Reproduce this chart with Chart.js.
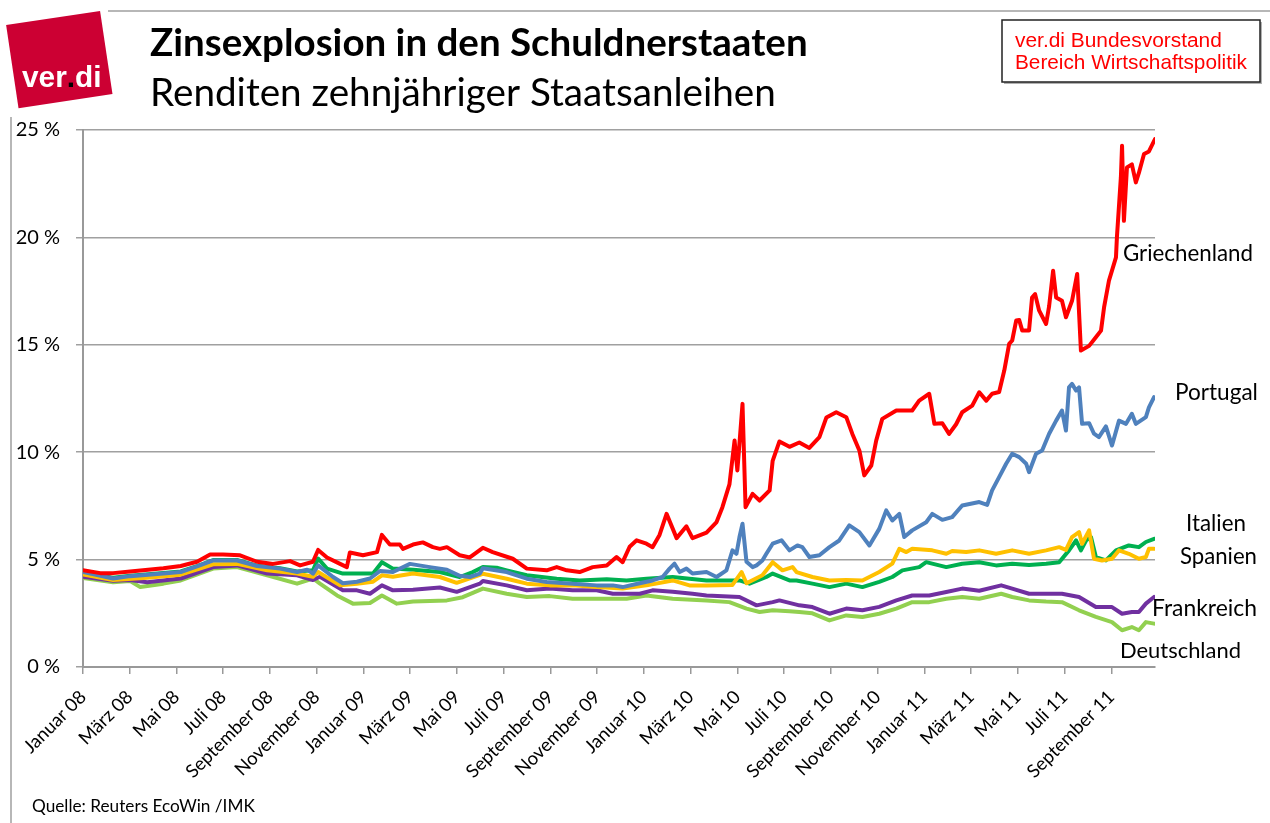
<!DOCTYPE html>
<html>
<head>
<meta charset="utf-8">
<script src="https://cdn.jsdelivr.net/npm/chart.js@4.4.1/dist/chart.umd.min.js"></script>
<style>
html, body { margin: 0; padding: 0; background: #fff; }
#chart { position: absolute; left: 0; top: 0; }
</style>
</head>
<body>
<canvas id="chart" width="1270" height="823"></canvas>
<script>
// x = months since 1 Jan 2008, y = yield in %
const tickLabels = ['Januar 08', 'März 08', 'Mai 08', 'Juli 08', 'September 08', 'November 08',
    'Januar 09', 'März 09', 'Mai 09', 'Juli 09', 'September 09', 'November 09',
    'Januar 10', 'März 10', 'Mai 10', 'Juli 10', 'September 10', 'November 10',
    'Januar 11', 'März 11', 'Mai 11', 'Juli 11', 'September 11'];

const griechenland = [[0,4.5],[0.74,4.37],[1.29,4.37],[2.02,4.45],[3.44,4.6],[4.18,4.7],[4.88,4.9],[5.44,5.24],[5.99,5.24],[6.72,5.2],[7.45,4.9],[8.13,4.8],[8.86,4.93],[9.29,4.73],[9.84,4.9],[10.06,5.45],[10.44,5.1],[11.0,4.8],[11.29,4.65],[11.42,5.33],[11.98,5.2],[12.58,5.35],[12.79,6.15],[13.13,5.7],[13.56,5.7],[13.69,5.5],[14.12,5.7],[14.54,5.8],[14.97,5.58],[15.27,5.5],[15.57,5.58],[16.12,5.2],[16.55,5.1],[17.11,5.55],[17.53,5.35],[18.39,5.04],[18.99,4.58],[19.84,4.5],[20.27,4.65],[20.7,4.5],[21.25,4.42],[21.81,4.65],[22.41,4.73],[22.83,5.12],[23.09,4.88],[23.39,5.6],[23.69,5.9],[24.11,5.74],[24.37,5.58],[24.67,6.15],[24.97,7.13],[25.4,6.0],[25.82,6.55],[26.08,6.0],[26.68,6.26],[27.11,6.75],[27.36,7.44],[27.66,8.5],[27.88,10.55],[28.0,9.15],[28.22,12.25],[28.35,7.44],[28.65,8.06],[28.95,7.75],[29.38,8.22],[29.51,9.6],[29.8,10.5],[30.23,10.25],[30.65,10.45],[31.08,10.2],[31.51,10.7],[31.81,11.62],[32.23,11.86],[32.66,11.63],[32.92,10.85],[33.22,10.08],[33.43,8.92],[33.73,9.38],[33.94,10.54],[34.2,11.55],[34.8,11.94],[35.48,11.94],[35.78,12.4],[36.21,12.72],[36.43,11.32],[36.77,11.35],[37.06,10.85],[37.36,11.3],[37.62,11.86],[38.05,12.17],[38.35,12.79],[38.65,12.4],[38.9,12.72],[39.2,12.8],[39.42,13.8],[39.63,15.04],[39.76,15.2],[39.93,16.13],[40.06,16.15],[40.19,15.66],[40.48,15.66],[40.61,17.2],[40.74,17.36],[40.91,16.6],[41.21,15.97],[41.34,16.8],[41.51,18.45],[41.64,17.2],[41.89,17.05],[42.06,16.28],[42.32,17.05],[42.54,18.3],[42.7,14.73],[43.05,14.95],[43.34,15.35],[43.56,15.66],[43.69,16.74],[43.9,17.99],[44.2,19.07],[44.24,20.0],[44.41,22.8],[44.46,24.27],[44.54,20.77],[44.67,23.26],[44.88,23.4],[45.05,22.56],[45.18,23.0],[45.4,23.88],[45.61,24.0],[45.87,24.58]];

const portugal = [[0,4.42],[1.29,4.12],[2.02,4.23],[3.44,4.35],[4.18,4.42],[4.88,4.68],[5.57,4.96],[6.59,4.96],[7.45,4.7],[8.43,4.58],[9.16,4.42],[9.59,4.53],[9.84,4.35],[10.06,4.73],[10.7,4.19],[11.12,3.9],[11.72,3.97],[12.28,4.12],[12.71,4.47],[13.26,4.42],[13.99,4.8],[14.84,4.65],[15.57,4.53],[16.12,4.25],[16.55,4.19],[16.98,4.35],[17.11,4.6],[18.13,4.42],[18.99,4.11],[19.84,3.96],[20.95,3.88],[21.98,3.8],[22.67,3.8],[23.09,3.72],[23.82,3.9],[24.37,4.03],[24.8,4.19],[25.1,4.58],[25.31,4.81],[25.53,4.42],[25.82,4.58],[26.08,4.35],[26.68,4.42],[27.11,4.19],[27.53,4.5],[27.79,5.43],[27.96,5.27],[28.09,6.05],[28.22,6.67],[28.39,4.9],[28.65,4.65],[28.82,4.73],[29.07,4.96],[29.24,5.27],[29.51,5.74],[29.89,5.9],[30.23,5.43],[30.57,5.66],[30.78,5.58],[31.08,5.12],[31.51,5.2],[31.94,5.58],[32.36,5.89],[32.79,6.59],[33.22,6.28],[33.65,5.66],[34.07,6.43],[34.37,7.29],[34.63,6.82],[34.93,7.13],[35.14,6.05],[35.48,6.36],[36.08,6.74],[36.34,7.13],[36.77,6.85],[37.19,6.98],[37.62,7.52],[38.35,7.68],[38.69,7.55],[38.9,8.22],[39.2,8.84],[39.5,9.46],[39.76,9.93],[40.06,9.77],[40.36,9.46],[40.48,9.07],[40.78,9.93],[41.04,10.08],[41.34,10.86],[41.64,11.47],[41.89,11.94],[42.06,11.01],[42.19,13.02],[42.32,13.18],[42.49,12.87],[42.62,13.02],[42.75,11.32],[43.05,11.35],[43.26,10.86],[43.47,10.7],[43.77,11.2],[44.03,10.31],[44.33,11.47],[44.63,11.32],[44.88,11.79],[45.05,11.32],[45.48,11.63],[45.61,12.09],[45.83,12.56]];

const spanien = [[0,4.31],[1.29,4.05],[2.75,4.15],[4.18,4.3],[5.57,4.78],[6.59,4.8],[7.88,4.5],[9.16,4.35],[9.84,4.2],[10.06,4.42],[11.0,3.8],[11.72,3.88],[12.41,3.97],[12.79,4.27],[13.26,4.2],[14.12,4.35],[15.27,4.19],[15.99,3.92],[17.11,4.34],[18.13,4.11],[18.99,3.88],[19.97,3.8],[20.95,3.8],[21.98,3.72],[23.09,3.65],[24.11,3.8],[25.23,4.03],[25.95,3.8],[26.68,3.8],[27.79,3.82],[28.18,4.42],[28.39,3.9],[29.07,4.27],[29.24,4.5],[29.51,4.88],[29.93,4.5],[30.36,4.65],[30.53,4.42],[31.21,4.19],[31.94,4.03],[32.66,4.05],[33.35,4.03],[34.07,4.42],[34.63,4.81],[34.93,5.5],[35.23,5.35],[35.48,5.5],[36.34,5.43],[36.94,5.27],[37.19,5.4],[37.79,5.35],[38.35,5.43],[39.07,5.27],[39.76,5.43],[40.48,5.27],[41.21,5.43],[41.77,5.58],[42.06,5.45],[42.32,6.05],[42.62,6.28],[42.75,5.74],[43.05,6.36],[43.26,5.04],[43.6,4.96],[44.03,5.04],[44.33,5.43],[44.75,5.27],[45.18,5.04],[45.48,5.12],[45.61,5.5],[45.83,5.5]];

const italien = [[0,4.45],[1.29,4.15],[2.02,4.25],[3.44,4.38],[4.18,4.45],[4.88,4.7],[5.57,4.98],[6.59,4.98],[7.45,4.72],[8.43,4.6],[9.16,4.45],[9.84,4.5],[10.06,5.05],[10.44,4.58],[11.12,4.35],[11.98,4.35],[12.41,4.35],[12.79,4.88],[13.26,4.58],[14.12,4.53],[15.27,4.42],[16.12,4.19],[16.68,4.42],[17.11,4.65],[17.7,4.62],[18.13,4.5],[18.99,4.27],[20.27,4.11],[21.25,4.03],[22.41,4.08],[23.26,4.03],[24.11,4.11],[25.23,4.19],[26.68,4.03],[28.09,4.03],[28.52,3.88],[29.24,4.19],[29.51,4.35],[30.23,4.03],[30.53,4.03],[31.21,3.88],[31.94,3.72],[32.66,3.88],[33.35,3.72],[34.07,3.96],[34.63,4.19],[35.06,4.5],[35.78,4.65],[36.08,4.88],[36.94,4.65],[37.62,4.81],[38.35,4.88],[39.07,4.73],[39.76,4.81],[40.48,4.75],[41.21,4.81],[41.77,4.88],[42.19,5.43],[42.49,5.89],[42.7,5.43],[42.92,5.89],[43.13,6.05],[43.34,5.12],[43.77,4.96],[44.2,5.43],[44.75,5.66],[45.18,5.58],[45.48,5.82],[45.83,5.97]];

const frankreich = [[0,4.2],[1.29,4.02],[2.02,4.05],[2.75,3.95],[4.18,4.12],[5.57,4.65],[6.59,4.73],[7.88,4.35],[9.16,4.27],[9.84,4.05],[10.14,4.2],[11.12,3.57],[11.72,3.57],[12.28,3.41],[12.79,3.8],[13.26,3.57],[14.12,3.6],[15.27,3.7],[15.99,3.5],[16.98,3.88],[17.11,4.0],[18.13,3.8],[18.99,3.57],[19.97,3.65],[20.95,3.57],[21.98,3.57],[22.67,3.41],[23.82,3.41],[24.37,3.57],[25.23,3.5],[26.08,3.41],[26.68,3.33],[28.09,3.26],[28.82,2.87],[29.51,3.02],[29.8,3.1],[30.65,2.87],[31.21,2.79],[31.94,2.48],[32.66,2.72],[33.35,2.64],[34.07,2.8],[34.8,3.1],[35.48,3.33],[36.21,3.33],[36.94,3.49],[37.62,3.65],[38.35,3.55],[39.29,3.8],[39.76,3.65],[40.48,3.41],[41.21,3.41],[41.89,3.41],[42.62,3.26],[43.34,2.79],[44.03,2.79],[44.46,2.48],[44.88,2.56],[45.18,2.56],[45.48,2.95],[45.83,3.26]];

const deutschland = [[0,4.15],[1.29,3.95],[2.02,4.0],[2.45,3.72],[3.44,3.88],[4.18,4.03],[5.57,4.58],[6.59,4.65],[7.88,4.27],[9.16,3.88],[9.84,4.12],[10.14,3.88],[10.87,3.33],[11.55,2.95],[12.28,2.98],[12.79,3.33],[13.43,2.95],[14.12,3.05],[15.57,3.1],[16.25,3.25],[17.11,3.65],[18.13,3.41],[18.99,3.26],[19.97,3.3],[20.95,3.18],[21.98,3.18],[23.26,3.18],[24.11,3.33],[25.23,3.18],[26.68,3.1],[27.66,3.02],[28.39,2.72],[28.95,2.56],[29.51,2.64],[30.23,2.6],[30.65,2.56],[31.21,2.5],[31.94,2.17],[32.66,2.4],[33.35,2.33],[34.07,2.48],[34.8,2.72],[35.48,3.02],[36.21,3.02],[36.94,3.18],[37.62,3.26],[38.35,3.18],[39.29,3.41],[39.76,3.26],[40.48,3.1],[41.21,3.05],[41.89,3.02],[42.62,2.64],[43.34,2.33],[44.03,2.09],[44.46,1.71],[44.88,1.86],[45.18,1.71],[45.48,2.09],[45.83,2.02]];

const seriesNames = ['Griechenland', 'Portugal', 'Spanien', 'Italien', 'Frankreich', 'Deutschland'];
const seriesData = [griechenland, portugal, spanien, italien, frankreich, deutschland];
const seriesColors = ['#ff0000', '#4f81bd', '#ffc000', '#00b050', '#7030a0', '#92d050'];

// text drawn around the plot: [text, x, baseline, width, weight, family, color]
const texts = [
    ['Zinsexplosion in den Schuldnerstaaten', 150, 56, 658, 'bold', 'Lato', '#000'],
    ['Renditen zehnjähriger Staatsanleihen', 150, 106, 626, 'normal', 'Lato', '#000'],
    ['ver.di Bundesvorstand', 1015, 47, 207, 'normal', 'Liberation Sans', '#ff0000'],
    ['Bereich Wirtschaftspolitik', 1015, 69, 232, 'normal', 'Liberation Sans', '#ff0000'],
    ['Griechenland', 1123, 261, 130, 'normal', 'Lato', '#000'],
    ['Portugal', 1175, 400, 83, 'normal', 'Lato', '#000'],
    ['Italien', 1186, 531, 60, 'normal', 'Lato', '#000'],
    ['Spanien', 1180, 564, 77, 'normal', 'Lato', '#000'],
    ['Frankreich', 1152, 616, 105, 'normal', 'Lato', '#000'],
    ['Deutschland', 1120, 658, 121, 'normal', 'Lato', '#000'],
    ['Quelle: Reuters EcoWin /IMK', 32, 812, 223, 'normal', 'Lato', '#000']
];

function fitText(ctx, t) {
    const [str, x, y, w, weight, family, color] = t;
    ctx.font = weight + ' 100px "' + family + '"';
    const size = 100 * w / ctx.measureText(str).width;
    ctx.font = weight + ' ' + size + 'px "' + family + '"';
    ctx.fillStyle = color;
    ctx.textBaseline = 'alphabetic';
    ctx.textAlign = 'left';
    ctx.fillText(str, x, y);
}

const decor = {
    id: 'decor',
    afterDraw(chart) {
        const ctx = chart.ctx;
        ctx.save();
        // frame lines
        ctx.strokeStyle = '#a0a0a0';
        ctx.lineWidth = 1.5;
        ctx.beginPath();
        ctx.moveTo(108, 11); ctx.lineTo(1270, 11);
        ctx.moveTo(11, 117); ctx.lineTo(11, 823);
        ctx.stroke();

        // logo
        ctx.save();
        ctx.translate(59.3, 59.6);
        ctx.rotate(-8.5 * Math.PI / 180);
        ctx.fillStyle = '#cc0033';
        ctx.fillRect(-47.5, -42, 95, 84);
        ctx.restore();
        ctx.font = 'bold 100px "Liberation Sans"';
        const lw = ctx.measureText('ver.di').width;
        const ls = 100 * 78 / lw;
        ctx.font = 'bold ' + ls + 'px "Liberation Sans"';
        ctx.textBaseline = 'alphabetic';
        let lx = 22;
        [['ver', '#fff'], ['.', '#000'], ['di', '#fff']].forEach(p => {
            ctx.fillStyle = p[1];
            ctx.fillText(p[0], lx, 87);
            lx += ctx.measureText(p[0]).width;
        });

        // box top right
        ctx.fillStyle = '#b0b0b0';
        ctx.fillRect(1004, 22, 258, 62);
        ctx.fillStyle = '#fff';
        ctx.fillRect(1002, 20, 258, 62);
        ctx.strokeStyle = '#222';
        ctx.lineWidth = 1.5;
        ctx.strokeRect(1002, 20, 258, 62);

        texts.forEach(t => fitText(ctx, t));
        ctx.restore();
    }
};

const ctx = document.getElementById('chart').getContext('2d');

const data = {
    datasets: seriesNames.map((name, i) => ({
        label: name,
        data: seriesData[i].map(p => ({x: p[0], y: p[1]})),
        borderColor: seriesColors[i],
        backgroundColor: seriesColors[i],
        borderWidth: 4,
        pointRadius: 0,
        tension: 0,
        fill: false,
        borderJoinStyle: 'round',
        borderCapStyle: 'round'
    }))
};

const options = {
    responsive: false,
    animation: false,
    devicePixelRatio: 1,
    layout: {
        padding: {top: 130, right: 115, bottom: 0, left: 0}
    },
    plugins: {
        legend: {display: false},
        tooltip: {enabled: false},
        title: {display: false}
    },
    scales: {
        x: {
            type: 'linear',
            min: 0,
            max: 45.87,
            afterBuildTicks: scale => {
                scale.ticks = tickLabels.map((l, i) => ({value: i * 2}));
            },
            afterFit: scale => { scale.height = 156; },
            ticks: {
                autoSkip: false,
                minRotation: 45,
                maxRotation: 45,
                padding: 12,
                color: '#000',
                font: {family: 'Lato', size: 18.5},
                callback: value => tickLabels[Math.round(value / 2)]
            },
            grid: {drawOnChartArea: false, drawTicks: true, tickLength: 7, color: '#999', lineWidth: 1.5},
            border: {color: '#999', width: 2}
        },
        y: {
            min: 0,
            max: 25,
            afterFit: scale => { scale.width = 83; },
            ticks: {
                stepSize: 5,
                padding: 16,
                color: '#000',
                font: {family: 'Lato', size: 20},
                callback: value => value + ' %'
            },
            grid: {color: '#a0a0a0', lineWidth: 1.5, tickLength: 7},
            border: {color: '#999', width: 2}
        }
    }
};

window.zinsChart = new Chart(ctx, {type: 'line', data: data, options: options, plugins: [decor]});
</script>
</body>
</html>
